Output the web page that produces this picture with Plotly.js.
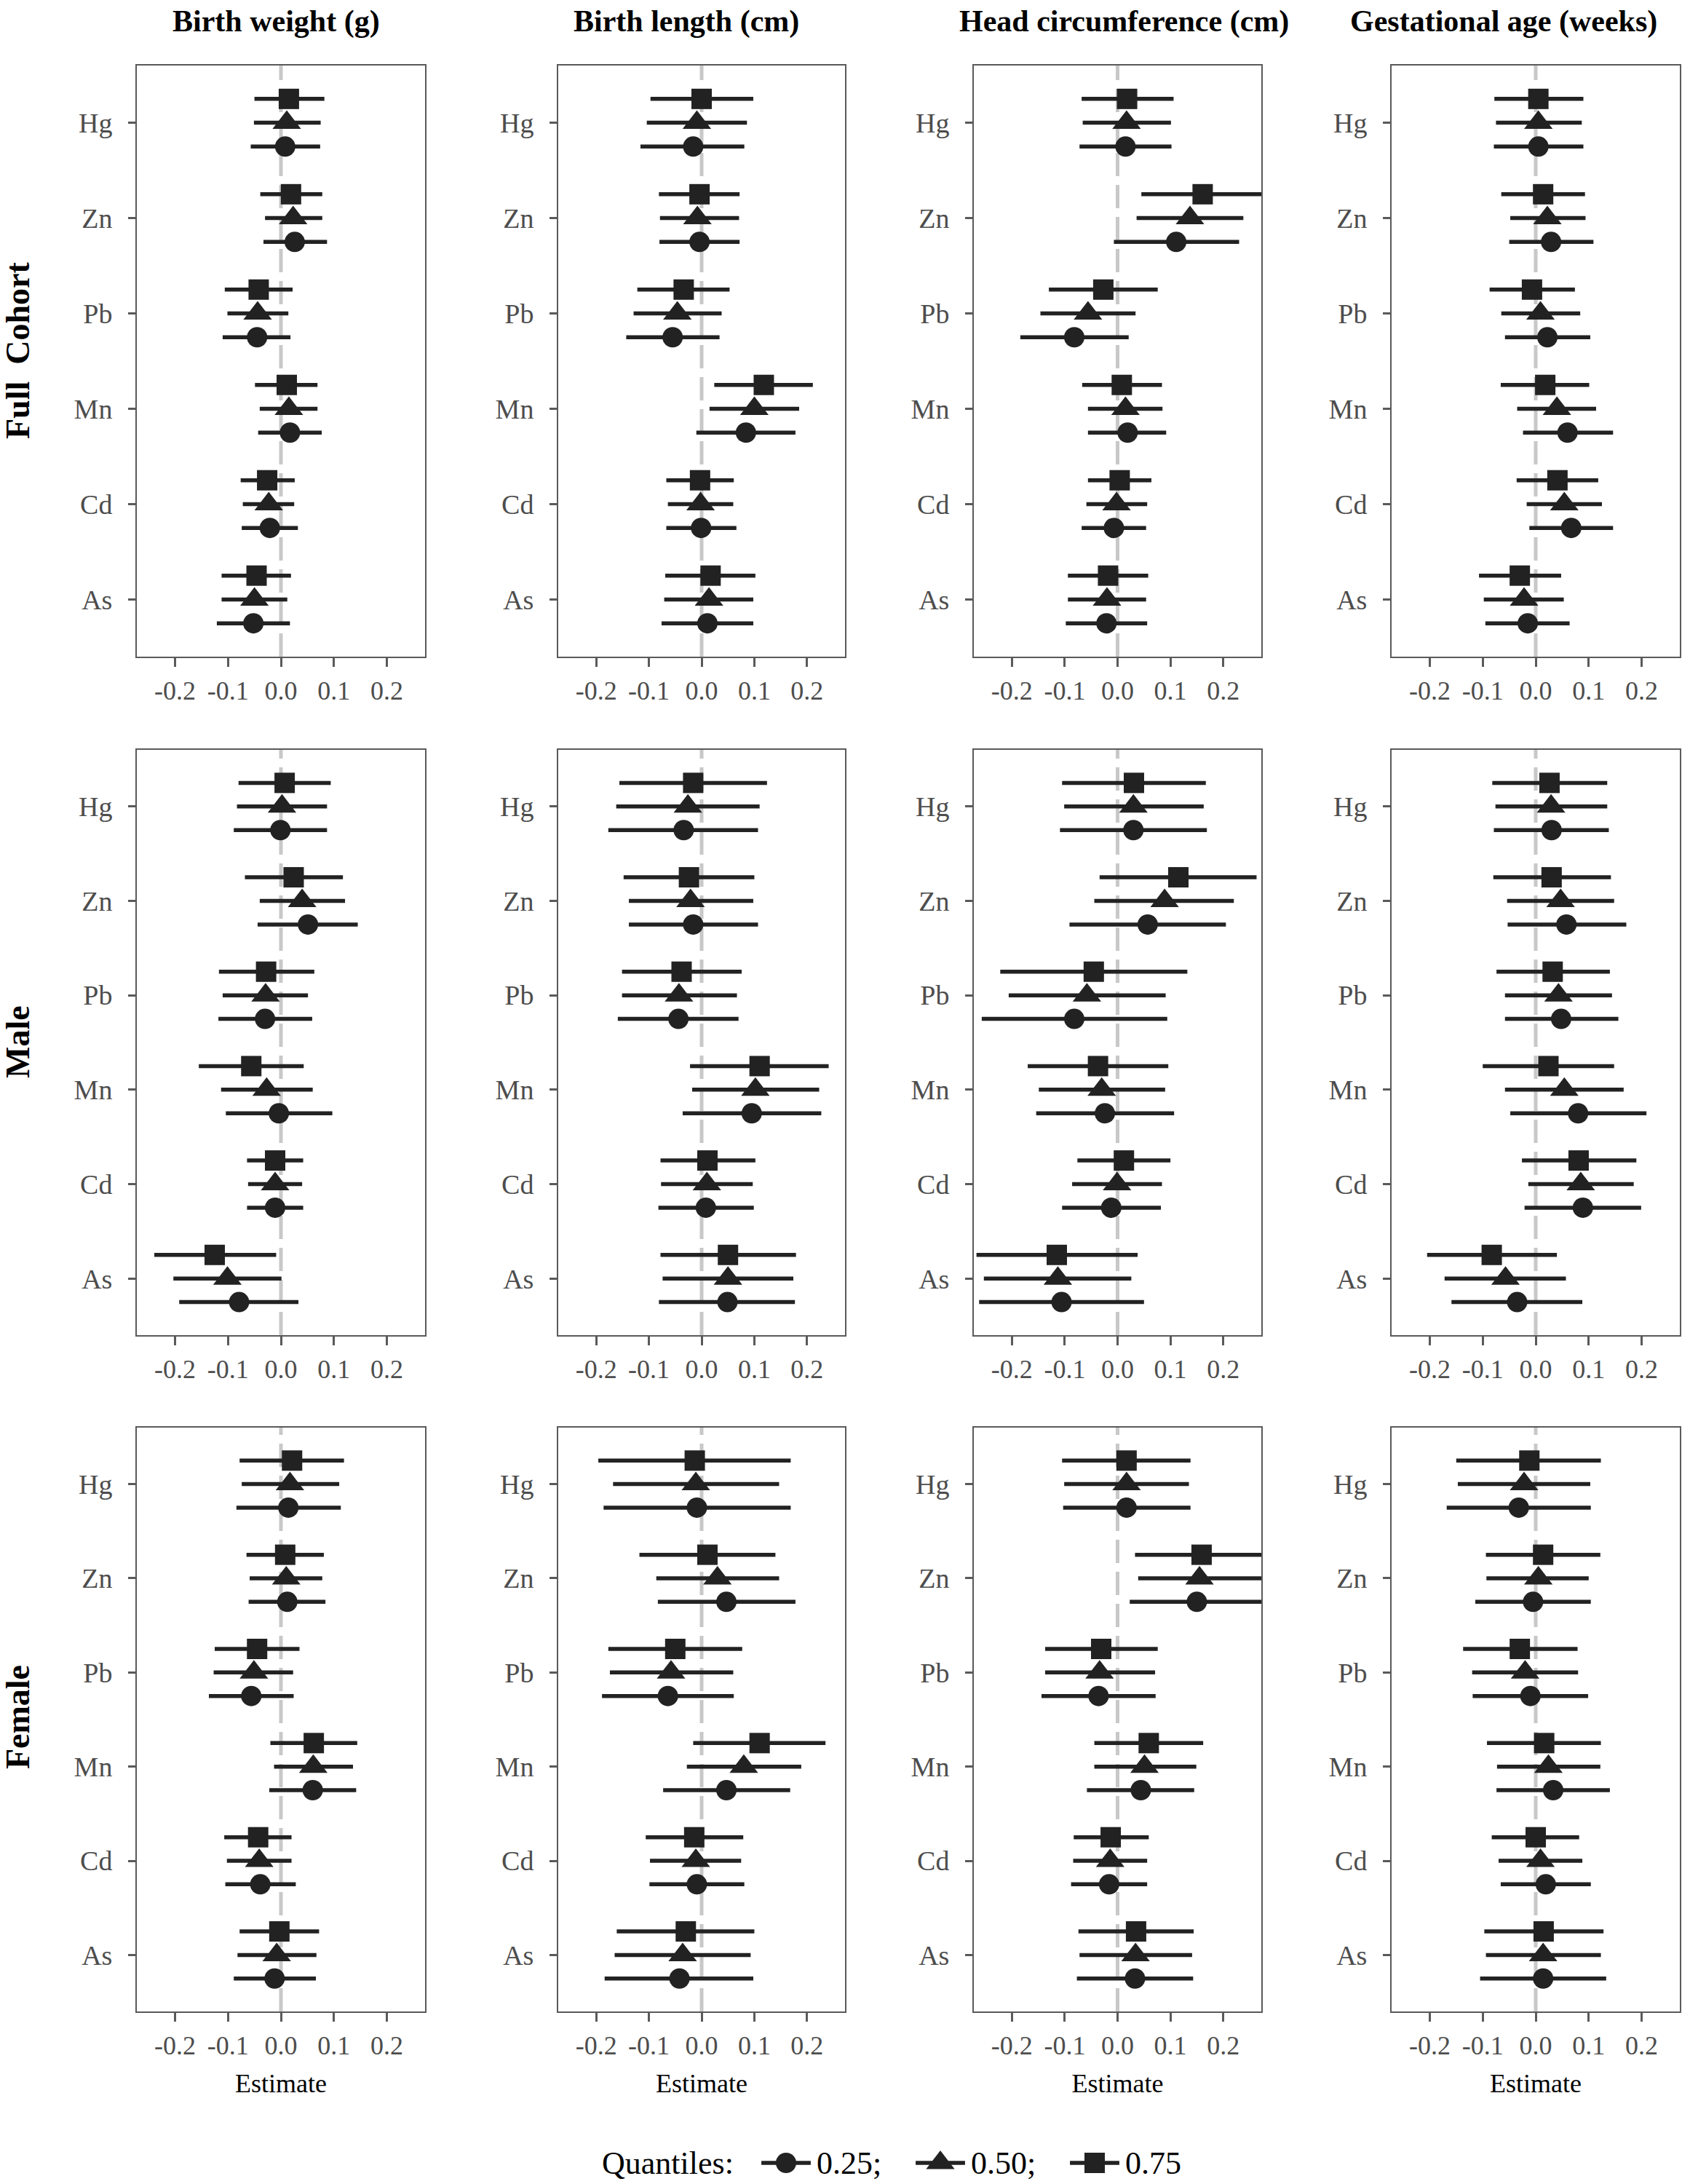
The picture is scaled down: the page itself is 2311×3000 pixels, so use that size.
<!DOCTYPE html>
<html>
<head>
<meta charset="utf-8">
<script src="https://cdn.plot.ly/plotly-3.0.1.min.js"></script>
<style>html,body{margin:0;padding:0;background:#fff}</style>
</head>
<body>
<div id="chart" style="width:2311px;height:3000px"></div>
<script>
// ---------------- DATA ----------------
const metals = ['Hg', 'Zn', 'Pb', 'Mn', 'Cd', 'As'];
const quantileLabels = ['0.25;', '0.50;', '0.75'];
const legendTitle = 'Quantiles:';
const outcomes = ['Birth weight (g)', 'Birth length (cm)', 'Head circumference (cm)', 'Gestational age (weeks)'];
const groups = ['Full  Cohort', 'Male', 'Female'];
const xTickVals = [-0.2, -0.1, 0, 0.1, 0.2];
const xTickLabels = ['-0.2', '-0.1', '0.0', '0.1', '0.2'];

// rows: quantile 0.25, 0.50, 0.75 ; columns: Hg, Zn, Pb, Mn, Cd, As
// Full cohort
const bwFull_est = [[0.008, 0.026, -0.045, 0.017, -0.021, -0.052], [0.011, 0.023, -0.044, 0.015, -0.023, -0.050], [0.015, 0.019, -0.042, 0.011, -0.026, -0.046]];
const bwFull_lo  = [[-0.057, -0.033, -0.110, -0.043, -0.074, -0.121], [-0.051, -0.030, -0.101, -0.040, -0.072, -0.112], [-0.050, -0.039, -0.106, -0.049, -0.076, -0.112]];
const bwFull_hi  = [[0.074, 0.087, 0.018, 0.077, 0.032, 0.017], [0.075, 0.078, 0.014, 0.069, 0.025, 0.012], [0.082, 0.078, 0.022, 0.069, 0.026, 0.019]];

const blFull_est = [[-0.016, -0.004, -0.055, 0.084, -0.001, 0.011], [-0.009, -0.008, -0.046, 0.100, -0.002, 0.014], [0.000, -0.004, -0.034, 0.118, -0.003, 0.017]];
const blFull_lo  = [[-0.116, -0.080, -0.143, -0.010, -0.067, -0.076], [-0.104, -0.079, -0.129, 0.015, -0.064, -0.071], [-0.097, -0.081, -0.122, 0.024, -0.067, -0.069]];
const blFull_hi  = [[0.081, 0.072, 0.034, 0.178, 0.066, 0.098], [0.086, 0.071, 0.038, 0.185, 0.060, 0.098], [0.098, 0.072, 0.053, 0.211, 0.061, 0.102]];

const hcFull_est = [[0.015, 0.111, -0.082, 0.019, -0.007, -0.021], [0.017, 0.137, -0.056, 0.015, -0.002, -0.020], [0.018, 0.161, -0.027, 0.008, 0.004, -0.018]];
const hcFull_lo  = [[-0.072, -0.007, -0.184, -0.056, -0.068, -0.098], [-0.066, 0.036, -0.146, -0.056, -0.059, -0.094], [-0.068, 0.045, -0.130, -0.067, -0.056, -0.094]];
const hcFull_hi  = [[0.102, 0.230, 0.021, 0.092, 0.054, 0.056], [0.101, 0.238, 0.034, 0.085, 0.056, 0.054], [0.106, 0.300, 0.076, 0.084, 0.064, 0.058]];

const gaFull_est = [[0.005, 0.029, 0.022, 0.060, 0.067, -0.015], [0.005, 0.022, 0.009, 0.040, 0.054, -0.022], [0.005, 0.014, -0.007, 0.018, 0.041, -0.030]];
const gaFull_lo  = [[-0.079, -0.050, -0.058, -0.024, -0.012, -0.095], [-0.075, -0.048, -0.065, -0.035, -0.017, -0.098], [-0.078, -0.065, -0.087, -0.066, -0.036, -0.107]];
const gaFull_hi  = [[0.090, 0.109, 0.103, 0.146, 0.146, 0.064], [0.087, 0.094, 0.084, 0.114, 0.125, 0.053], [0.090, 0.093, 0.074, 0.101, 0.118, 0.048]];

// Male
const bwMale_est = [[-0.001, 0.051, -0.030, -0.004, -0.011, -0.079], [0.002, 0.040, -0.029, -0.027, -0.011, -0.101], [0.007, 0.024, -0.028, -0.056, -0.011, -0.125]];
const bwMale_lo  = [[-0.089, -0.044, -0.118, -0.104, -0.064, -0.192], [-0.083, -0.040, -0.110, -0.113, -0.062, -0.203], [-0.080, -0.068, -0.117, -0.155, -0.064, -0.239]];
const bwMale_hi  = [[0.087, 0.145, 0.059, 0.097, 0.042, 0.033], [0.087, 0.121, 0.051, 0.060, 0.040, 0.001], [0.094, 0.117, 0.063, 0.043, 0.042, -0.009]];

const blMale_est = [[-0.034, -0.016, -0.044, 0.095, 0.008, 0.049], [-0.026, -0.021, -0.043, 0.102, 0.010, 0.050], [-0.016, -0.024, -0.038, 0.110, 0.011, 0.050]];
const blMale_lo  = [[-0.177, -0.138, -0.159, -0.036, -0.082, -0.081], [-0.162, -0.138, -0.151, -0.018, -0.077, -0.074], [-0.156, -0.148, -0.151, -0.022, -0.078, -0.078]];
const blMale_hi  = [[0.107, 0.107, 0.070, 0.227, 0.099, 0.177], [0.110, 0.098, 0.067, 0.223, 0.097, 0.174], [0.124, 0.100, 0.076, 0.241, 0.102, 0.179]];

const hcMale_est = [[0.030, 0.057, -0.082, -0.024, -0.012, -0.106], [0.030, 0.089, -0.058, -0.030, -0.001, -0.113], [0.031, 0.115, -0.045, -0.037, 0.012, -0.115]];
const hcMale_lo  = [[-0.109, -0.091, -0.257, -0.154, -0.105, -0.262], [-0.101, -0.044, -0.206, -0.149, -0.086, -0.253], [-0.105, -0.034, -0.222, -0.170, -0.076, -0.267]];
const hcMale_hi  = [[0.169, 0.205, 0.094, 0.107, 0.082, 0.050], [0.163, 0.220, 0.091, 0.090, 0.084, 0.026], [0.167, 0.263, 0.132, 0.096, 0.100, 0.038]];

const gaMale_est = [[0.030, 0.058, 0.048, 0.080, 0.089, -0.035], [0.029, 0.047, 0.043, 0.054, 0.085, -0.057], [0.026, 0.030, 0.032, 0.024, 0.081, -0.083]];
const gaMale_lo  = [[-0.079, -0.053, -0.058, -0.048, -0.021, -0.159], [-0.076, -0.054, -0.058, -0.058, -0.014, -0.172], [-0.082, -0.080, -0.074, -0.100, -0.026, -0.205]];
const gaMale_hi  = [[0.138, 0.171, 0.156, 0.209, 0.199, 0.088], [0.135, 0.148, 0.144, 0.166, 0.185, 0.057], [0.135, 0.142, 0.140, 0.148, 0.190, 0.040]];

// Female
const bwFemale_est = [[0.014, 0.012, -0.056, 0.060, -0.039, -0.012], [0.017, 0.010, -0.051, 0.061, -0.041, -0.008], [0.021, 0.008, -0.045, 0.062, -0.043, -0.003]];
const bwFemale_lo  = [[-0.084, -0.061, -0.136, -0.022, -0.105, -0.089], [-0.074, -0.059, -0.127, -0.013, -0.102, -0.082], [-0.078, -0.065, -0.125, -0.020, -0.107, -0.078]];
const bwFemale_hi  = [[0.113, 0.084, 0.024, 0.142, 0.028, 0.066], [0.110, 0.078, 0.023, 0.136, 0.020, 0.067], [0.119, 0.081, 0.035, 0.144, 0.020, 0.072]];

const blFemale_est = [[-0.009, 0.047, -0.064, 0.047, -0.009, -0.042], [-0.011, 0.030, -0.058, 0.080, -0.011, -0.036], [-0.013, 0.011, -0.050, 0.110, -0.014, -0.030]];
const blFemale_lo  = [[-0.186, -0.083, -0.189, -0.073, -0.099, -0.184], [-0.168, -0.086, -0.174, -0.028, -0.098, -0.165], [-0.196, -0.118, -0.177, -0.016, -0.106, -0.161]];
const blFemale_hi  = [[0.169, 0.178, 0.061, 0.168, 0.081, 0.098], [0.147, 0.147, 0.060, 0.189, 0.075, 0.093], [0.169, 0.140, 0.077, 0.235, 0.079, 0.100]];

const hcFemale_est = [[0.017, 0.150, -0.036, 0.044, -0.016, 0.033], [0.017, 0.155, -0.034, 0.051, -0.014, 0.034], [0.017, 0.159, -0.031, 0.059, -0.013, 0.035]];
const hcFemale_lo  = [[-0.103, 0.023, -0.144, -0.058, -0.088, -0.077], [-0.101, 0.039, -0.137, -0.044, -0.084, -0.072], [-0.105, 0.033, -0.137, -0.044, -0.083, -0.074]];
const hcFemale_hi  = [[0.138, 0.290, 0.072, 0.145, 0.056, 0.143], [0.135, 0.290, 0.071, 0.149, 0.056, 0.141], [0.138, 0.300, 0.076, 0.162, 0.059, 0.144]];

const gaFemale_est = [[-0.032, -0.005, -0.010, 0.033, 0.019, 0.014], [-0.022, 0.005, -0.020, 0.024, 0.009, 0.014], [-0.012, 0.014, -0.030, 0.016, 0.000, 0.015]];
const gaFemale_lo  = [[-0.168, -0.114, -0.119, -0.074, -0.066, -0.105], [-0.147, -0.093, -0.120, -0.073, -0.070, -0.094], [-0.150, -0.094, -0.137, -0.092, -0.083, -0.097]];
const gaFemale_hi  = [[0.104, 0.104, 0.099, 0.140, 0.104, 0.133], [0.103, 0.100, 0.080, 0.122, 0.088, 0.123], [0.123, 0.122, 0.079, 0.123, 0.082, 0.128]];

// ---------------- BUILD ----------------
const panelData = [
  [[bwFull_est, bwFull_lo, bwFull_hi], [blFull_est, blFull_lo, blFull_hi], [hcFull_est, hcFull_lo, hcFull_hi], [gaFull_est, gaFull_lo, gaFull_hi]],
  [[bwMale_est, bwMale_lo, bwMale_hi], [blMale_est, blMale_lo, blMale_hi], [hcMale_est, hcMale_lo, hcMale_hi], [gaMale_est, gaMale_lo, gaMale_hi]],
  [[bwFemale_est, bwFemale_lo, bwFemale_hi], [blFemale_est, blFemale_lo, blFemale_hi], [hcFemale_est, hcFemale_lo, hcFemale_hi], [gaFemale_est, gaFemale_lo, gaFemale_hi]]
];

const W = 2311, H = 3000;
const colPx = [[188, 584], [767, 1161], [1338, 1733], [1912, 2308]];
const rowPx = [[90, 902], [1030, 1834], [1961, 2763]];
const colTitleCenter = [379, 943, 1544, 2066];
const rowLabelCenter = [482, 1431, 2359];
const symbols = ['circle', 'triangle-up', 'square'];
const msizes = [28, 34, 28];
const dodge = [-0.25, 0, 0.25];
const FONT = 'Liberation Serif, Times New Roman, serif';
const INK = '#222222';
const FRAME = '#5a5a5a';
const TICKTXT = '#4d4d4d';

const metalBase = metals.map((m, i) => metals.length - i);

const traces = [];
const layout = {
  width: W, height: H,
  margin: {l: 0, r: 0, t: 0, b: 0},
  paper_bgcolor: '#ffffff', plot_bgcolor: '#ffffff',
  font: {family: FONT, color: '#000'},
  showlegend: false,
  shapes: [],
  annotations: []
};

for (let r = 0; r < 3; r++) {
  for (let c = 0; c < 4; c++) {
    const idx = r * 4 + c + 1;
    const sfx = idx === 1 ? '' : String(idx);
    const xa = 'x' + sfx, ya = 'y' + sfx;
    const [est, lo, hi] = panelData[r][c];
    for (let q = 0; q < 3; q++) {
      traces.push({
        type: 'scatter', mode: 'markers',
        x: est[q],
        y: metalBase.map(b => b + dodge[q]),
        xaxis: xa, yaxis: ya,
        name: quantileLabels[q],
        marker: {symbol: symbols[q], size: msizes[q], color: INK, line: {width: 0}},
        error_x: {
          type: 'data', symmetric: false,
          array: est[q].map((v, i) => hi[q][i] - v),
          arrayminus: est[q].map((v, i) => v - lo[q][i]),
          color: INK, thickness: 5.5, width: 0
        },
        hoverinfo: 'skip'
      });
    }
    layout['xaxis' + sfx] = {
      domain: [colPx[c][0] / W, colPx[c][1] / W],
      anchor: ya,
      range: [-0.272, 0.272],
      tickvals: xTickVals, ticktext: xTickLabels,
      ticks: 'outside', ticklen: 12, tickwidth: 3, tickcolor: FRAME,
      showline: true, mirror: true, linecolor: FRAME, linewidth: 2,
      showgrid: false, zeroline: false,
      tickfont: {family: FONT, size: 36, color: TICKTXT},
      ticklabelstandoff: 2,
      title: r === 2 ? {text: 'Estimate', font: {family: FONT, size: 36, color: '#000'}, standoff: 20} : {text: ''}
    };
    layout['yaxis' + sfx] = {
      domain: [1 - rowPx[r][1] / H, 1 - rowPx[r][0] / H],
      anchor: xa,
      range: [0.4, 6.6],
      tickvals: metalBase, ticktext: metals,
      ticks: 'outside', ticklen: 10, tickwidth: 3, tickcolor: FRAME,
      showline: true, mirror: true, linecolor: FRAME, linewidth: 2,
      showgrid: false, zeroline: false,
      tickfont: {family: FONT, size: 38, color: TICKTXT},
      ticklabelstandoff: 14
    };
    layout.shapes.push({
      type: 'line', xref: xa, yref: ya + ' domain',
      x0: 0, x1: 0, y0: 0, y1: 1, layer: 'below',
      line: {color: '#c8c8c8', width: 5, dash: '32px,12px'}
    });
  }
}

// ---- legend drawn as its own small axis pair ----
const legendIdx = quantileLabels.map((l, i) => i);
layout.xaxis13 = {domain: [974 / W, 1610 / W], anchor: 'y13', range: [-0.5, 2.5], visible: false, fixedrange: true};
layout.yaxis13 = {domain: [1 - 2991 / H, 1 - 2951 / H], anchor: 'x13', range: [-1, 1], visible: false, fixedrange: true};
quantileLabels.forEach((lab, q) => {
  traces.push({
    type: 'scatter', mode: 'markers',
    x: [legendIdx[q]], y: [0],
    xaxis: 'x13', yaxis: 'y13',
    marker: {symbol: symbols[q], size: msizes[q], color: INK, line: {width: 0}},
    error_x: {type: 'constant', value: 0.16, color: INK, thickness: 5.5, width: 0},
    cliponaxis: false,
    hoverinfo: 'skip'
  });
  layout.annotations.push({
    text: lab, xref: 'x13', yref: 'y13', x: legendIdx[q], y: 0,
    xanchor: 'left', yanchor: 'middle', xshift: 40, showarrow: false,
    font: {family: FONT, size: 44, color: '#000'}
  });
});
layout.annotations.push({
  text: legendTitle, xref: 'paper', yref: 'y13', x: 1010 / W, y: 0,
  xanchor: 'right', yanchor: 'middle', showarrow: false,
  font: {family: FONT, size: 44, color: '#000'}
});

outcomes.forEach((t, c) => {
  layout.annotations.push({
    text: '<b>' + t + '</b>', xref: 'paper', yref: 'paper',
    x: colTitleCenter[c] / W, y: 1 - 29 / H,
    xanchor: 'center', yanchor: 'middle', showarrow: false,
    font: {family: FONT, size: 42, color: '#000'}
  });
});
groups.forEach((g, r) => {
  layout.annotations.push({
    text: '<b>' + g + '</b>', xref: 'paper', yref: 'paper',
    x: 24 / W, y: 1 - rowLabelCenter[r] / H,
    xanchor: 'center', yanchor: 'middle', showarrow: false, textangle: -90,
    font: {family: FONT, size: 46, color: '#000'}
  });
});

Plotly.newPlot('chart', traces, layout, {staticPlot: true, displayModeBar: false});
</script>
</body>
</html>
